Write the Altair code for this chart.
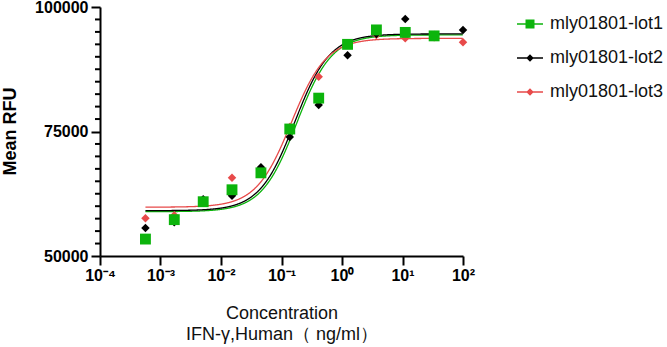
import altair as alt
import pandas as pd

# ---------------- data ----------------
lots = ["mly01801-lot1", "mly01801-lot2", "mly01801-lot3"]
colors = ["#0cb40c", "#000000", "#e84a4a"]

concentration = [0.000564, 0.00169, 0.00508, 0.0152, 0.0457, 0.137,
                 0.412, 1.235, 3.704, 11.11, 33.33, 100]
lot1_rfu = [53400, 57300, 60900, 63300, 66700, 75500,
            81700, 92500, 95400, 94900, 94200, None]
lot2_rfu = [55600, 56800, 61400, 62100, 67800, 73900,
            80300, 90300, 94600, 97600, 94400, 95400]
lot3_rfu = [57600, 58200, 61000, 65700, 67100, 75900,
            86000, 92700, 94400, 93700, 93900, 92900]

# four-parameter logistic fit parameters (bottom, top, EC50, hill)
fit_bottom = [58900, 59100, 59800]
fit_top = [94400, 94600, 93700]
fit_ec50 = [0.178, 0.165, 0.145]
fit_hill = [1.5, 1.5, 1.5]

x_tick_values = [1e-4, 1e-3, 1e-2, 1e-1, 1e0, 1e1, 1e2]
x_tick_labels = ["10\u207b\u2074", "10\u207b\u00b3", "10\u207b\u00b2", "10\u207b\u00b9",
                 "10\u2070", "10\u00b9", "10\u00b2"]
y_tick_values = [50000, 75000, 100000]
y_minor_values = [52500, 55000, 57500, 60000, 62500, 65000, 67500, 70000, 72500,
                  77500, 80000, 82500, 85000, 87500, 90000, 92500, 95000, 97500]

x_title = ["Concentration", "IFN-\u03b3,Human\uff08 ng/ml\uff09"]
y_title = "Mean RFU"

# ---------------- tables ----------------
rows = []
for lot, vals in zip(lots, [lot1_rfu, lot2_rfu, lot3_rfu]):
    for c, v in zip(concentration, vals):
        if v is not None:
            rows.append({"conc": c, "rfu": v, "lot": lot})
points = pd.DataFrame(rows)
minor_df = pd.DataFrame({"rfu": y_minor_values})

FONT = "Liberation Sans"

xscale = alt.Scale(type="log", domain=[1e-4, 1e2], nice=False)
yscale = alt.Scale(domain=[50000, 100000], nice=False, zero=False)
cscale = alt.Scale(domain=lots, range=colors)

label_array = "[" + ",".join("'" + s + "'" for s in x_tick_labels) + "]"
xaxis = alt.Axis(
    values=x_tick_values,
    labelExpr=label_array + "[round(log(datum.value)/LN10)+4]",
    title=x_title, titleFontSize=18, titleFontWeight="normal", titleFont=FONT,
    titleColor="#111", titleX=181.5, titleY=62, titleLineHeight=21,
    titleBaseline="alphabetic", titleAlign="center", titleAnchor="middle",
    labelFontSize=16, labelFontWeight="bold", labelFont=FONT, labelColor="#000",
    labelPadding=2, labelFlush=False, labelOverlap=False,
    tickSize=9, tickWidth=2, tickColor="#000",
    domainWidth=2, domainColor="#000", grid=False,
)
yaxis = alt.Axis(
    orient="left", values=y_tick_values, format="d",
    title=y_title, titleFontSize=18, titleFontWeight="bold", titleFont=FONT,
    titleColor="#000", titleX=-85, titleY=124, titleAngle=-90,
    titleAlign="center", titleBaseline="alphabetic",
    labelFontSize=16, labelFontWeight="bold", labelFont=FONT, labelColor="#000",
    labelPadding=3, labelFlush=False, labelOverlap=False,
    tickSize=9, tickWidth=2, tickColor="#000",
    domainWidth=2, domainColor="#000", grid=False,
)

legend_shapes = [
    "M-2.6,-0.15H-0.9V-0.9H0.9V-0.15H2.6V0.15H0.9V0.9H-0.9V0.15H-2.6Z",
    "M-2.6,-0.15H-0.6L0,-0.75L0.6,-0.15H2.6V0.15H0.6L0,0.75L-0.6,0.15H-2.6Z",
    "M-2.6,-0.15H-0.6L0,-0.75L0.6,-0.15H2.6V0.15H0.6L0,0.75L-0.6,0.15H-2.6Z",
]
legend = alt.Legend(
    title=None, orient="none", legendX=421, legendY=8, padding=0,
    symbolSize=100, symbolStrokeWidth=0, labelFontSize=18, labelFont=FONT,
    labelColor="#111", labelOffset=11, rowPadding=16,
)
color_enc = alt.Color("lot:N", scale=cscale, legend=legend)

# legend carrier layer (no rows drawn)
base_pts = alt.Chart(points)
legend_layer = (
    base_pts.transform_filter("false")
    .mark_point(filled=True, opacity=1, size=100)
    .encode(
        color=color_enc,
        shape=alt.Shape("lot:N", scale=alt.Scale(domain=lots, range=legend_shapes),
                        legend=legend),
    )
)

# minor ticks on the y axis (positions through the y scale)
minor_ticks = (
    alt.Chart(minor_df)
    .mark_rule(strokeWidth=2, color="#000", clip=False)
    .encode(
        y=alt.Y("rfu:Q", scale=yscale, axis=yaxis),
        x=alt.value(-5),
        x2=alt.value(0),
    )
)

# ---------------- fitted curves (4PL evaluated by Vega) ----------------
calc = {"conc": "pow(10, datum.t)"}
for lot, b, t, e, h in zip(lots, fit_bottom, fit_top, fit_ec50, fit_hill):
    calc[lot] = f"{b} + ({t} - {b}) / (1 + pow({e} / pow(10, datum.t), {h}))"

curves = (
    alt.Chart(alt.sequence(-3.249, 2.0001, 0.005, as_="t"))
    .transform_calculate(**calc)
    .transform_fold(lots, as_=["lot", "rfu"])
    .mark_line(strokeWidth=1.3)
    .encode(
        x=alt.X("conc:Q", scale=xscale, axis=xaxis),
        y=alt.Y("rfu:Q", scale=yscale, axis=yaxis),
        color=color_enc,
    )
)

diamonds = (
    base_pts.transform_filter(alt.datum.lot != lots[0])
    .mark_point(shape="diamond", filled=True, opacity=1, size=72)
    .encode(
        x=alt.X("conc:Q", scale=xscale, axis=xaxis),
        y=alt.Y("rfu:Q", scale=yscale, axis=yaxis),
        color=color_enc,
        order=alt.Order("lot:N", sort="descending"),
    )
)

squares = (
    base_pts.transform_filter(alt.datum.lot == lots[0])
    .mark_point(shape="square", filled=True, opacity=1, size=118)
    .encode(
        x=alt.X("conc:Q", scale=xscale, axis=xaxis),
        y=alt.Y("rfu:Q", scale=yscale, axis=yaxis),
        color=color_enc,
    )
)

chart = (
    alt.layer(legend_layer, minor_ticks, curves, diamonds, squares)
    .properties(
        width=363, height=249,
        autosize=alt.AutoSizeParams(type="none"),
        padding={"left": 100, "top": 7, "right": 204, "bottom": 91},
        background="white",
    )
    .configure_view(stroke=None)
)

chart.save("out.html", embed_options={"renderer": "svg", "actions": False})
